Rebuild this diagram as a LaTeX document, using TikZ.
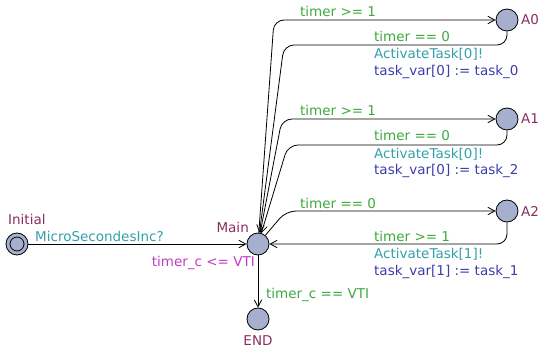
\documentclass[tikz,border=0pt]{standalone}
\usepackage{fontspec}
\setmainfont{DejaVu Sans}
\usetikzlibrary{arrows.meta}
\definecolor{locname}{RGB}{140,45,95}
\definecolor{locfill}{RGB}{166,176,206}
\definecolor{guard}{RGB}{60,170,60}
\definecolor{sync}{RGB}{50,160,170}
\definecolor{upd}{RGB}{60,60,170}
\definecolor{inv}{RGB}{190,60,200}
\begin{document}
\begin{tikzpicture}[x=1pt,y=-1pt,font=\fontsize{13.5}{16}\selectfont,
  loc/.style={circle,draw,fill=locfill,minimum size=22pt,inner sep=0pt,line width=0.8pt},
  inloc/.style={circle,draw,minimum size=14pt,inner sep=0pt,line width=0.8pt},
  edge/.style={line width=0.8pt,-{Straight Barb[length=7pt,width=7.5pt]},rounded corners=10pt},
  lbl/.style={anchor=base west,inner sep=0pt},
  nm/.style={text=locname,inner sep=0pt},
  gd/.style={lbl,text=guard},
  sy/.style={lbl,text=sync},
  up/.style={lbl,text=upd}]
\useasboundingbox (0,0) rectangle (539,353);
% locations
\node[loc] (Init) at (17,244) {};
\node[inloc] (InitIn) at (17,244) {};
\node[loc] (Main) at (258,244) {};
\node[loc] (END) at (258,319) {};
\node[loc] (A0) at (507,20) {};
\node[loc] (A1) at (507,119) {};
\node[loc] (A2) at (507,211) {};
% names
\node[nm,anchor=base west] (nInit) at (8,224) {Initial};
\node[nm,anchor=base east] (nMain) at (249,232) {Main};
\node[nm,anchor=base] (nEND) at (258,345) {END};
\node[nm,anchor=base west] (nA0) at (521,25) {A0};
\node[nm,anchor=base west] (nA1) at (521,124) {A1};
\node[nm,anchor=base west] (nA2) at (521,216) {A2};
\node[anchor=base east,inner sep=0pt,text=inv] (invMain) at (255,266) {timer\_c <= VTI};
% corner points
\coordinate (k0a) at (274,20);
\coordinate (k0b) at (507,45);
\coordinate (k0c) at (284,45);
\coordinate (k1a) at (282,119);
\coordinate (k1b) at (507,145);
\coordinate (k1c) at (288,145);
\coordinate (k2a) at (286,211);
\coordinate (k2b) at (507,244);
% edges
\draw[edge] (Init) -- (Main);
\draw[edge] (Main) -- (END);
\draw[edge] (Main) -- (k0a) -- (A0);
\draw[edge] (A0) -- (k0b) -- (k0c) -- (Main);
\draw[edge] (Main) -- (k1a) -- (A1);
\draw[edge] (A1) -- (k1b) -- (k1c) -- (Main);
\draw[edge] (Main) -- (k2a) -- (A2);
\draw[edge] (A2) -- (k2b) -- (Main);
% edge labels
\node[sy] (sInit) at (35,241) {MicroSecondesInc?};
\node[gd] (gEnd) at (266,298) {timer\_c == VTI};
\node[gd] (g0a) at (300,17) {timer >= 1};
\node[gd] (g0b) at (374,42) {timer == 0};
\node[sy] (s0b) at (374,59) {ActivateTask[0]!};
\node[up] (u0b) at (374,76) {task\_var[0] := task\_0};
\node[gd] (g1a) at (300,116) {timer >= 1};
\node[gd] (g1b) at (374,141) {timer == 0};
\node[sy] (s1b) at (374,158) {ActivateTask[0]!};
\node[up] (u1b) at (374,175) {task\_var[0] := task\_2};
\node[gd] (g2a) at (300,208) {timer == 0};
\node[gd] (g2b) at (374,241) {timer >= 1};
\node[sy] (s2b) at (374,258) {ActivateTask[1]!};
\node[up] (u2b) at (374,275) {task\_var[1] := task\_1};
\end{tikzpicture}
\end{document}
